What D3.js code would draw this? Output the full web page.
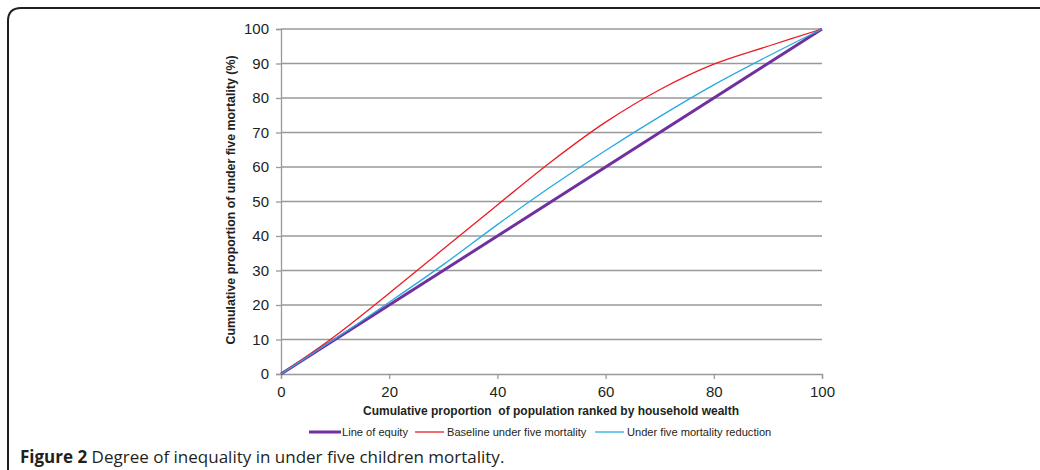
<!DOCTYPE html>
<html><head><meta charset="utf-8">
<script src="https://cdn.jsdelivr.net/npm/d3@7"></script>
<style>body{margin:0;background:#fff}svg{display:block}</style>
</head><body>
<svg id="c" width="1040" height="470"></svg>
<script>
const xValues = [0, 10, 20, 30, 40, 50, 60, 70, 80, 90, 100];
const equity = [0, 10, 20, 30, 40, 50, 60, 70, 80, 90, 100];
const baseline = [0, 11.0, 23.4, 36.2, 49.0, 61.6, 73.0, 82.4, 89.8, 95.0, 100];
const reduction = [0, 10.2, 20.8, 31.7, 43.3, 54.4, 64.8, 74.6, 83.8, 92.1, 100];
const xTicks = [0, 20, 40, 60, 80, 100];
const yTicks = [0, 10, 20, 30, 40, 50, 60, 70, 80, 90, 100];
const seriesNames = ["Line of equity", "Baseline under five mortality", "Under five mortality reduction"];

const svg = d3.select("#c");
const font = "'Liberation Sans', Arial, sans-serif";
const x = d3.scaleLinear().domain([0, 100]).range([281, 822]);
const y = d3.scaleLinear().domain([0, 100]).range([374, 29]);

// frame
svg.append("path")
  .attr("d", "M8,470 L8,21 Q8,8 21,8 L1040,8")
  .attr("fill", "none").attr("stroke", "#231f20").attr("stroke-width", 2);

// gridlines
svg.append("g").selectAll("line").data(yTicks.filter(d => d > 0)).join("line")
  .attr("x1", x(0)).attr("x2", x(100))
  .attr("y1", d => y(d)).attr("y2", d => y(d))
  .attr("stroke", "#999").attr("stroke-width", 1.3);

// axes
const yAxis = svg.append("g").attr("transform", `translate(${x(0)},0)`)
  .call(d3.axisLeft(y).tickValues(yTicks).tickSize(5).tickPadding(7));
const xAxis = svg.append("g").attr("transform", `translate(0,${y(0)})`)
  .call(d3.axisBottom(x).tickValues(xTicks).tickSize(5).tickPadding(7));
[xAxis, yAxis].forEach(g => {
  g.attr("font-size", 15).attr("font-family", font);
  g.select(".domain").attr("stroke", "#999").attr("stroke-width", 1.3);
  g.selectAll(".tick line").attr("stroke", "#999").attr("stroke-width", 1.3);
  g.selectAll("text").attr("fill", "#231f20");
});

// lines
const mk = arr => xValues.map((v, i) => [v, arr[i]]);
const line = d3.line().x(d => x(d[0])).y(d => y(d[1])).curve(d3.curveCatmullRom.alpha(0.5));
const series = [
  {name: seriesNames[0], data: mk(equity), color: "#7030a0", w: 3},
  {name: seriesNames[1], data: mk(baseline), color: "#ed1c24", w: 1.3},
  {name: seriesNames[2], data: mk(reduction), color: "#27aae1", w: 1.3}
];
series.forEach(s => {
  svg.append("path").attr("d", line(s.data)).attr("fill", "none")
    .attr("stroke", s.color).attr("stroke-width", s.w);
});

// axis titles
svg.append("text").attr("x", 551).attr("y", 415).attr("text-anchor", "middle")
  .attr("font-family", font).attr("font-weight", "bold").attr("font-size", 12).attr("fill", "#231f20")
  .attr("xml:space", "preserve")
  .text("Cumulative proportion  of population ranked by household wealth");
svg.append("text").attr("transform", "translate(235,200) rotate(-90)").attr("text-anchor", "middle")
  .attr("font-family", font).attr("font-weight", "bold").attr("font-size", 12.4).attr("fill", "#231f20")
  .text("Cumulative proportion of under five mortality (%)");

// legend
const legX = [309, 415, 595];
series.forEach((s, i) => {
  const g = svg.append("g").attr("transform", `translate(${legX[i]},432)`);
  g.append("line").attr("x1", 0).attr("x2", i === 0 ? 32 : 29).attr("y1", 0).attr("y2", 0)
    .attr("stroke", s.color).attr("stroke-width", s.w);
  g.append("text").attr("x", i === 0 ? 33 : 32).attr("y", 4)
    .attr("font-family", font).attr("font-size", 11.1).attr("fill", "#231f20").text(s.name);
});

// caption
const cap = svg.append("text").attr("x", 20).attr("y", 463)
  .attr("font-family", "'Open Sans', 'Noto Sans', sans-serif").attr("font-size", 17).attr("fill", "#231f20");
cap.append("tspan").attr("font-weight", "bold").text("Figure 2");
cap.append("tspan").text(" Degree of inequality in under five children mortality.");
</script>
</body></html>
